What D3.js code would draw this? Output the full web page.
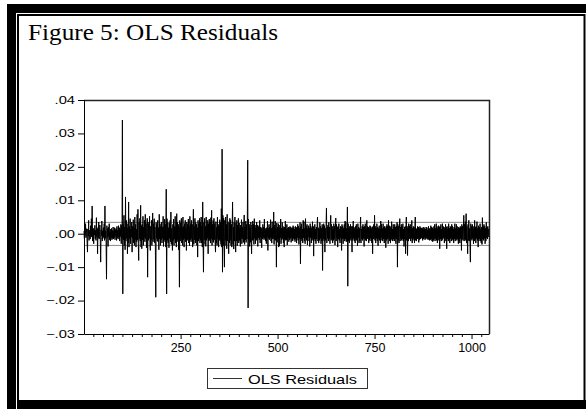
<!DOCTYPE html>
<html>
<head>
<meta charset="utf-8">
<script src="https://cdn.jsdelivr.net/npm/d3@7"></script>
<style>
  html, body { margin: 0; padding: 0; background: #fff; }
  svg { display: block; }
</style>
</head>
<body>
<svg id="chart" width="586" height="409"></svg>
<script>
const titleText = 'Figure 5: OLS Residuals';
const seriesName = 'OLS Residuals';
const yTicks = [-0.03, -0.02, -0.01, 0, 0.01, 0.02, 0.03, 0.04];
const xMajorTicks = [250, 500, 750, 1000];
const xMinorStep = 25;
const bandLevels = [0.0034, -0.0035];

// residuals, in units of 1e-4, obs 1..1045
const residuals = [
  8,-14,22,-5,30,-12,3,15,-25,-55, 14,-8,40,-20,6,11,-16,24,-7,45, -10,83,-22,7,16,-30,12,-4,25,-15, 10,-20,48,-9,14,-60,18,-12,35,-16, 7,26,-18,-85,12,-6,38,-22,9,-14,
  18,-10,30,-20,83,-14,9,-28,-136,24, -12,16,-38,20,-8,30,-18,6,-22,14, -12,16,-18,10,-14,20,-16,8,-12,18, -18,12,-8,16,-20,22,-12,10,-16,24, -10,18,-22,12,-8,28,-30,25,-14,340,
  -180,28,-18,55,-35,20,-48,110,-22,40, -14,30,-60,18,-28,95,-40,22,-15,45, -30,14,-10,35,-55,22,-14,42,-28,18, -35,50,-20,28,-40,14,-24,58,-18,73, -28,-80,34,-16,46,-22,85,-40,24,-45,
  28,-18,52,-35,20,-12,40,-24,58,-15, 30,-42,18,46,-130,35,-20,28,-14,52, -30,-50,22,-18,40,-35,14,62,-24,30, -16,45,-28,20,-40,-190,34,-14,28,-22, 40,-24,18,-48,58,-16,30,-35,22,-18,
  35,-28,20,-14,52,-38,22,-18,44,-24, 28,-40,133,-180,45,-20,34,-28,18,-42, 32,-14,40,-24,65,-32,16,-18,-50,28, -20,44,-35,22,-16,52,-28,20,-40,60, -24,34,-18,28,-48,20,-160,40,-22,32,
  -16,46,-28,20,-35,50,-18,22,-40,30, -14,40,-24,18,-50,35,-20,28,-16,44, -28,22,-36,52,-18,30,-24,40,-14,28, -40,20,73,-32,22,-18,46,-28,34,-20, 28,-35,18,-70,40,-22,30,-16,46,-28,
  34,-20,50,-28,22,-40,95,-24,-115,34, -18,46,-32,22,-38,50,-20,28,-14,40, -60,30,-22,44,-18,34,-28,48,-16,70, -35,28,-20,40,-26,46,-18,30,-24,-55, 36,-28,20,-35,50,-16,28,-40,22,-18,
  42,-22,34,-32,75,-40,253,-115,55,-35, 46,-28,-100,40,-20,50,-35,28,-45,58, -22,36,-18,-60,32,-28,46,-20,40,-35, 28,-40,22,95,-32,20,-46,34,-22,50, -18,-55,32,-22,40,-36,26,-20,46,-28,
  32,-20,18,-38,26,-14,42,-30,20,-16, 35,-26,18,56,-32,20,-18,38,-26,28, -16,34,220,-222,44,-20,28,-38,18,-26, 35,-16,-60,26,-20,38,-18,28,-32,45, -14,26,-30,18,-20,35,-16,26,-38,20,
  -12,24,-18,40,-28,20,-10,18,-42,12, -16,28,-12,20,-18,44,-14,16,-22,12, -30,18,-10,38,-50,16,-14,28,-18,20, -12,42,-22,16,-28,36,-16,20,-14,65, -32,26,-18,38,-20,16,-100,32,-26,20,
  -16,30,-40,18,-36,26,-12,44,-30,16, -18,34,-14,22,-28,18,-40,20,-16,38, -20,14,-18,28,-34,16,-12,20,-24,18, -18,22,-14,20,-26,16,-12,18,-22,24, -14,20,-18,14,-24,22,-16,18,-28,20,
  -12,28,-20,22,-32,16,-14,34,-90,22, -16,30,-22,14,-28,40,-12,36,-22,16, -30,45,-14,22,-20,28,-34,16,-10,24, -22,18,-38,30,-12,22,-28,16,-20,36, -14,22,-67,18,-16,28,-22,14,-30,20,
  -16,30,50,-22,18,-28,14,-20,34,-14, 22,-30,16,-22,28,-110,20,-16,30,-22, 24,-55,16,-20,22,77,-28,20,-14,26, -22,34,-16,20,-30,22,55,-20,28,-16, 22,-28,14,-20,30,-16,22,-34,20,47,
  -22,28,-14,20,-40,22,-16,30,-20,14, -28,22,-12,20,-50,28,-16,22,-30,16, -14,28,-22,38,-16,34,-24,16,-20,80, -157,30,-22,16,-28,22,-14,28,-20,22, -16,-55,22,-20,38,-14,20,-22,16,-28,
  22,-16,28,-20,14,-36,30,-12,20,-28, 16,-22,20,50,-28,14,-16,22,-20,28, -14,20,-38,22,-16,30,-20,14,-22,40, -16,22,-12,20,-28,16,-20,24,-14,22, -22,16,-28,20,-60,22,-16,28,-14,55,
  -20,22,-28,16,-14,30,-22,20,-36,16, -16,24,-20,14,-28,38,-12,28,-20,16, -22,30,-16,20,-28,22,-14,16,-42,22, -20,28,-16,22,-30,40,-14,24,-22,16, -28,22,-16,36,-20,14,-22,28,-16,20,
  -22,28,-14,20,-30,22,-16,34,-100,28, -20,22,-28,16,45,-22,20,-14,28,-20, 22,-16,30,-22,14,-38,20,-16,22,-60, 28,50,-20,22,-65,16,-22,30,-14,22, -16,28,-22,20,-14,40,-28,16,-20,22,
  -14,20,-28,22,50,-20,16,-22,14,-16, 22,-14,20,-26,16,-18,22,-16,18,-14, 16,-12,18,-20,14,-16,20,-12,16,-18, 14,-16,20,-12,18,-17,12,-16,22,-18, 16,-20,14,-18,24,-16,20,-22,18,-24,
  14,-20,22,-16,28,-22,16,-14,30,-20, 22,-28,16,-20,24,-14,20,-45,22,-16, 28,-22,14,-20,30,-16,22,-12,20,-28, 16,-22,28,-14,20,-45,22,-16,14,-22, 30,-20,16,-28,22,-14,20,-22,28,-16,
  22,-20,14,-28,20,-16,30,-22,16,-14, 28,-20,22,-16,14,-30,20,-22,16,-28, 22,-14,20,-50,28,-16,22,-20,14,55, -22,28,-16,36,-20,60,-28,22,-14,-60, 28,-20,40,-22,16,-28,-85,30,-16,22,
  -20,28,-14,22,-30,16,-22,40,-16,20, -28,22,-14,36,-20,16,-40,24,-22,20, -16,30,-22,14,-28,20,-32,48,-16,22, -20,28,-14,22,-30,16,-22,34,-12,20, -16,22,-10,14,-6
];

const data = residuals.map((v, i) => ({ obs: i + 1, value: v / 1e4 }));

const svg = d3.select('#chart');

// page frame (double border, cropped)
svg.append('rect').attr('x', 7).attr('y', 4).attr('width', 579).attr('height', 9).attr('fill', '#000');
svg.append('rect').attr('x', 7).attr('y', 4).attr('width', 9).attr('height', 405).attr('fill', '#000');
svg.append('rect').attr('x', 17).attr('y', 400).attr('width', 569).attr('height', 9).attr('fill', '#000');
svg.append('rect')
  .attr('x', 18).attr('y', 15).attr('width', 566.5).attr('height', 390)
  .attr('fill', 'none').attr('stroke', '#000').attr('stroke-width', 2);

// title
svg.append('text')
  .attr('x', 28).attr('y', 40)
  .attr('font-family', '"Liberation Serif", "Times New Roman", serif')
  .attr('font-size', 23)
  .attr('fill', '#000')
  .attr('textLength', 250)
  .attr('lengthAdjust', 'spacingAndGlyphs')
  .text(titleText);

const x = d3.scaleLinear().domain([1, residuals.length]).range([84, 489]);
const y = d3.scaleLinear().domain([-0.03, 0.04]).range([334, 100]);

const g = svg.append('g');

// +/- band lines
g.selectAll('line.band')
  .data(bandLevels)
  .join('line')
  .attr('class', 'band')
  .attr('x1', x.range()[0]).attr('x2', x.range()[1])
  .attr('y1', d => y(d)).attr('y2', d => y(d))
  .attr('stroke', '#8a8a8a').attr('stroke-width', 1);

// residual series
const line = d3.line().x(d => x(d.obs)).y(d => y(d.value));
g.append('path')
  .datum(data)
  .attr('fill', 'none')
  .attr('stroke', '#000')
  .attr('stroke-width', 1)
  .attr('d', line);

// top and right frame of the plot
g.append('path')
  .attr('d', `M${x.range()[0]},${y.range()[1] + 0.5}H${x.range()[1] + 0.5}V${y.range()[0]}`)
  .attr('fill', 'none').attr('stroke', '#222').attr('stroke-width', 1.5);

// y axis
const yAxis = g.append('g')
  .attr('transform', `translate(${x.range()[0]},0)`)
  .call(d3.axisLeft(y)
    .tickValues(yTicks)
    .tickSize(6)
    .tickSizeOuter(0)
    .tickPadding(3)
    .tickFormat(d => d3.format('.2f')(d).replace('0.', '.')));

yAxis.selectAll('text')
  .attr('font-family', '"Liberation Sans", Arial, sans-serif')
  .attr('font-size', 10.5)
  .attr('fill', '#000')
  .each(function() {
    const w = this.getComputedTextLength();
    d3.select(this).attr('textLength', w * 1.4).attr('lengthAdjust', 'spacingAndGlyphs');
  });

// x axis
const xTickValues = d3.range(xMinorStep, residuals.length, xMinorStep);
const xAxis = g.append('g')
  .attr('transform', `translate(0,${y.range()[0]})`)
  .call(d3.axisBottom(x)
    .tickValues(xTickValues)
    .tickSize(3)
    .tickSizeOuter(0)
    .tickPadding(6)
    .tickFormat(d => xMajorTicks.includes(d) ? d : ''));

xAxis.selectAll('.tick')
  .filter(d => xMajorTicks.includes(d))
  .select('line')
  .attr('y2', 5);

xAxis.selectAll('text')
  .attr('font-family', '"Liberation Sans", Arial, sans-serif')
  .attr('font-size', 12.5)
  .attr('fill', '#000');

svg.selectAll('.domain, .tick line').attr('stroke', '#000');

// legend
const legend = svg.append('g');
legend.append('rect')
  .attr('x', 207.5).attr('y', 368.5).attr('width', 160).attr('height', 20)
  .attr('fill', '#fff').attr('stroke', '#333').attr('stroke-width', 1);
legend.append('line')
  .attr('x1', 213).attr('x2', 242).attr('y1', 378.5).attr('y2', 378.5)
  .attr('stroke', '#333').attr('stroke-width', 1);
legend.append('text')
  .attr('x', 248).attr('y', 384)
  .attr('font-family', '"Liberation Sans", Arial, sans-serif')
  .attr('font-size', 13)
  .attr('fill', '#000')
  .attr('textLength', 109)
  .attr('lengthAdjust', 'spacingAndGlyphs')
  .text(seriesName);
</script>
</body>
</html>
